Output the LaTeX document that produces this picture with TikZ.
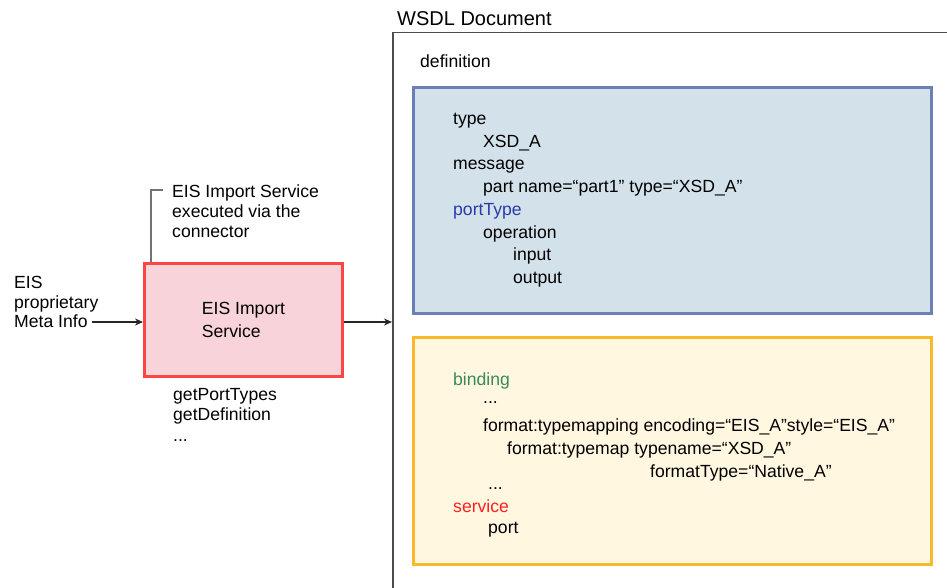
\documentclass[tikz,border=0pt]{standalone}
\usepackage{fontspec}
\setmainfont{Liberation Sans}
\usetikzlibrary{arrows.meta}
\definecolor{svcred}{HTML}{FF4444}
\definecolor{svcfill}{HTML}{F9D3DA}
\definecolor{typeblue}{HTML}{6C80B8}
\definecolor{typefill}{HTML}{D3E1EA}
\definecolor{bindgold}{HTML}{F9B92A}
\definecolor{bindfill}{HTML}{FFF7E0}
\definecolor{porttype}{HTML}{2B3BA8}
\definecolor{bindgreen}{HTML}{3A8A55}
\definecolor{servred}{HTML}{FF2020}

\begin{document}
\begin{tikzpicture}[x=1pt, y=-1pt,
  txt/.style={inner sep=0pt, align=left, font=\fontsize{17.6}{20}\selectfont},
  part/.style={line width=3pt, minimum width=518pt},
  flow/.style={-{Stealth[length=8pt,width=7pt]}, line width=1.1pt, black!85},
  callout/.style={line width=1.5pt, black!55}]
  \useasboundingbox (0,0) rectangle (947,588);
  \clip (0,0) rectangle (947,588);

  % WSDL document frame, runs off to the right and bottom
  \node[txt, anchor=north west, font=\fontsize{20}{24}\selectfont] (title) at (397,11) {WSDL Document};
  \node[draw=black!70, line width=1.5pt, anchor=north west, minimum width=700pt, minimum height=700pt] (wsdl) at (392,32) {};
  \node[txt, anchor=north west] (defn) at (420,55) {definition};

  % abstract part
  \node[part, draw=typeblue, fill=typefill, minimum height=226pt] (types) at (672.5,200.5) {};
  \node[txt, anchor=north west, font=\fontsize{17.6}{22.7}\selectfont] (typelist) at (453,113) {type\\
    \hspace*{30pt}XSD\_A\\
    message\\
    \hspace*{30pt}part name=“part1” type=“XSD\_A”\\
    \textcolor{porttype}{portType}\\
    \hspace*{30pt}operation\\
    \hspace*{60pt}input\\
    \hspace*{60pt}output};

  % concrete part
  \node[part, draw=bindgold, fill=bindfill, minimum height=227pt] (binds) at (672.5,451) {};
  \node[txt, anchor=north west, font=\fontsize{17.6}{23}\selectfont] (bindlist) at (453,373) {\textcolor{bindgreen}{binding}\\
    \hspace*{30pt}\raisebox{5pt}{...}\\
    \hspace*{30pt}format:typemapping encoding=“EIS\_A”style=“EIS\_A”\\
    \hspace*{54pt}format:typemap typename=“XSD\_A”\\
    \hspace*{197pt}formatType=“Native\_A”\\[-11pt]
    \hspace*{35pt}...\\
    \textcolor{servred}{service}\\[-2pt]
    \hspace*{35pt}port};

  % import service
  \node[draw=svcred, fill=svcfill, line width=3pt, minimum width=198pt, minimum height=113pt,
    align=left, font=\fontsize{17.6}{23}\selectfont] (eis) at (243.5,319.5) {EIS Import\\Service};
  \node[txt, anchor=north west, font=\fontsize{17.6}{19.5}\selectfont] (meta) at (14,276.5) {EIS\\proprietary\\Meta Info};
  \node[txt, anchor=north west] (note) at (172,185) {EIS Import Service\\executed via the\\connector};
  \node[txt, anchor=north west, font=\fontsize{17.6}{20.5}\selectfont] (calls) at (173,388) {getPortTypes\\getDefinition\\...};

  \coordinate (metaend) at (92,322);
  \draw[flow] (metaend) -- (metaend -| eis.west);
  \draw[flow] (metaend -| eis.east) -- (metaend -| wsdl.west);
  \draw[callout] ([xshift=-9pt,yshift=-5pt]note.north west) -| ([xshift=8pt]eis.north west);
\end{tikzpicture}
\end{document}
